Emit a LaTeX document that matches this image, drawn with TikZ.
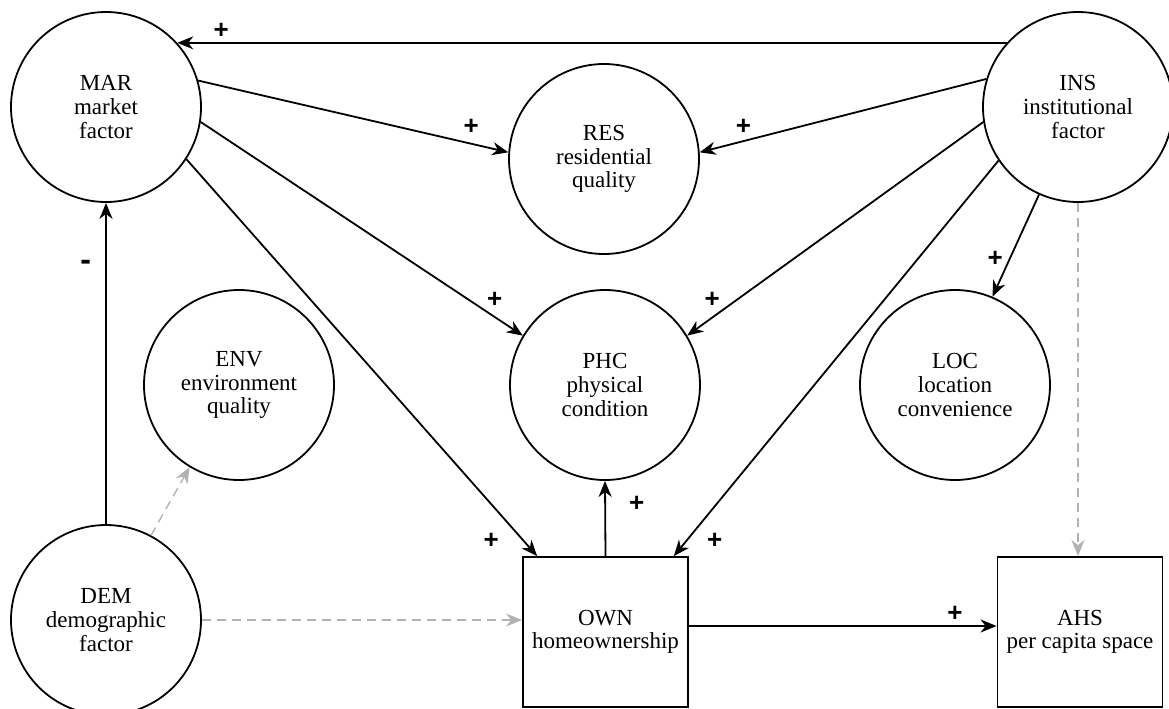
\documentclass[tikz,border=0pt]{standalone}
\usepackage{fontspec}
\setmainfont{Liberation Serif}
\newfontfamily\signfont{Liberation Sans}
\usetikzlibrary{arrows.meta}

\begin{document}
\begin{tikzpicture}[x=0.5pt,y=-0.5pt,line width=0.9pt,
    var/.style={draw,circle,minimum size=95pt,inner sep=0pt,align=center,
      font=\fontsize{11.5}{11.8}\selectfont},
    obs/.style={draw,rectangle,minimum width=82.5pt,minimum height=75pt,
      inner sep=0pt,align=center,font=\fontsize{11.5}{11.8}\selectfont},
    arr/.style={-{Stealth[length=8pt,width=6.5pt,inset=2.5pt]}},
    dsh/.style={-{Stealth[length=8pt,width=6.5pt,inset=2.5pt]},gray!60,
      line width=0.7pt,dash pattern=on 4.5pt off 3pt},
    sgn/.style={font=\signfont\bfseries\fontsize{13}{13}\selectfont,
      text=black,inner sep=1pt}]
  \useasboundingbox (0,0) rectangle (1169,708);
  \node[var] (MAR) at (106,107) {MAR\\market\\factor};
  \node[var] (RES) at (604,159) {RES\\residential\\quality};
  \node[var] (INS) at (1078,107) {INS\\institutional\\factor};
  \node[var] (ENV) at (239,385) {ENV\\environment\\quality};
  \node[var] (PHC) at (605,385) {PHC\\physical\\condition};
  \node[var] (LOC) at (955,385) {LOC\\location\\convenience};
  \node[var] (DEM) at (106,620) {DEM\\demographic\\factor};
  \node[obs] (OWN) at (605.5,632) {OWN\\homeownership};
  \node[obs] (AHS) at (1080,632) {AHS\\per capita space};
  \path[arr] (INS.138) edge node[sgn,pos=0.947,above=0.5pt] {+} (MAR.42)
    (MAR.16) edge node[sgn,pos=0.88,above=3pt] {+} (RES.176)
    (INS.163) edge node[sgn,pos=0.847,above=2pt] {+} (RES.4)
    (MAR.-9) edge node[sgn,pos=0.88,above right] {+} (PHC.149)
    (INS.189) edge node[sgn,pos=0.88,above left] {+} (PHC.31)
    (MAR.-33) edge node[sgn,pos=0.962,left=11pt] {+} (OWN.132)
    (INS.214) edge node[sgn,pos=0.962,right=9pt] {+} (OWN.48)
    (INS.246) edge node[sgn,pos=0.63,left=2pt] {+} (LOC.67)
    (OWN.north) edge node[sgn,pos=0.7,right=10.5pt] {+} (PHC.south)
    ([yshift=3pt]OWN.east) edge node[sgn,pos=0.865,above=1pt] {+} ([yshift=3pt]AHS.west)
    (DEM.north) edge node[sgn,pos=0.805,left=6pt,font=\signfont\bfseries\fontsize{16}{16}\selectfont] {-} (MAR.south);
  \path[dsh] (DEM.62) edge (ENV.239)
    (DEM.east) edge (DEM.east -| OWN.west)
    (INS.south) edge (INS.south |- AHS.north);
\end{tikzpicture}
\end{document}
